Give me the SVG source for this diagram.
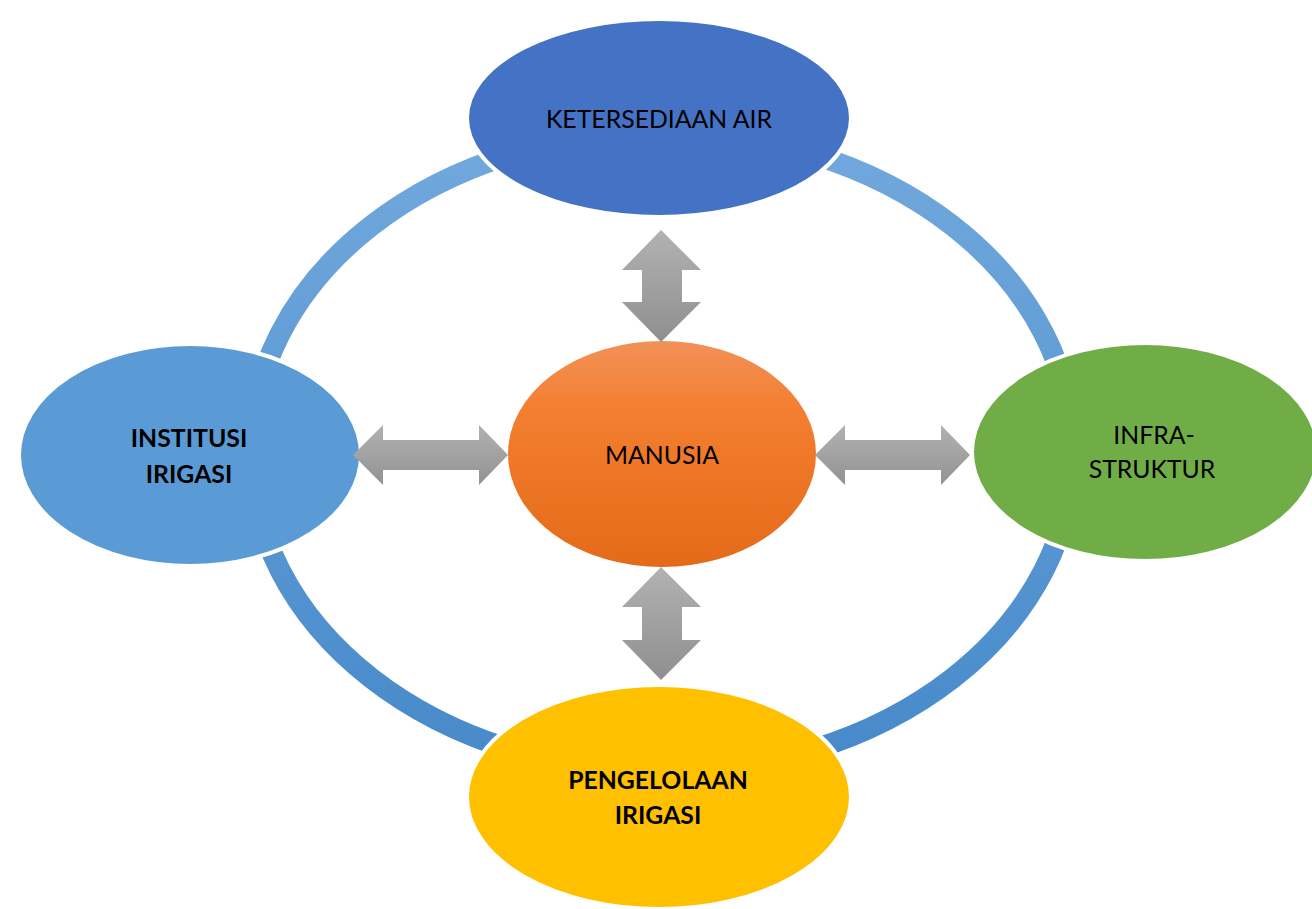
<svg xmlns="http://www.w3.org/2000/svg" width="1312" height="909" viewBox="0 0 1312 909">
<defs>
<linearGradient id="ringG" x1="0" y1="0" x2="0" y2="1">
<stop offset="0" stop-color="#72a9dd"/>
<stop offset="1" stop-color="#4689ca"/>
</linearGradient>
<linearGradient id="orangeG" x1="0" y1="0" x2="0" y2="1">
<stop offset="0" stop-color="#f19259"/>
<stop offset="0.3" stop-color="#f47f30"/>
<stop offset="1" stop-color="#e36a18"/>
</linearGradient>
<linearGradient id="grayV" x1="0" y1="0" x2="0" y2="1">
<stop offset="0" stop-color="#b2b2b2"/>
<stop offset="1" stop-color="#8f8f8f"/>
</linearGradient>
<linearGradient id="grayH" x1="0" y1="0" x2="0" y2="1">
<stop offset="0" stop-color="#b2b2b2"/>
<stop offset="1" stop-color="#929292"/>
</linearGradient>
</defs>
<style>
.node{stroke:#ffffff;stroke-width:4}
.t{font-family:Lato,"Open Sans","Liberation Sans",sans-serif;font-size:24.8px;fill:#000;text-anchor:middle}
.b{font-weight:bold}
</style>
<rect width="1312" height="909" fill="#ffffff"/>
<g id="ring">
<ellipse cx="662" cy="452" rx="411" ry="320" fill="none" stroke="url(#ringG)" stroke-width="21"/>
</g>
<g id="ketersediaan-air">
<ellipse class="node" cx="659" cy="118" rx="192" ry="99" fill="#4472c4"/>
<text class="t" x="659" y="128">KETERSEDIAAN AIR</text>
</g>
<g id="institusi-irigasi">
<ellipse class="node" cx="190" cy="455" rx="171" ry="111" fill="#5b9bd5"/>
<text class="t b" x="189" y="447">INSTITUSI</text>
<text class="t b" x="189" y="483">IRIGASI</text>
</g>
<g id="manusia">
<ellipse class="node" cx="662" cy="454" rx="156" ry="115" fill="url(#orangeG)"/>
<text class="t" x="662" y="464">MANUSIA</text>
</g>
<g id="infrastruktur">
<ellipse class="node" cx="1145" cy="452" rx="173" ry="109" fill="#70ad47"/>
<text class="t" x="1154" y="444">INFRA-</text>
<text class="t" x="1152" y="478">STRUKTUR</text>
</g>
<g id="pengelolaan-irigasi">
<ellipse class="node" cx="659" cy="797" rx="192" ry="112" fill="#ffc000"/>
<text class="t b" x="658" y="789">PENGELOLAAN</text>
<text class="t b" x="658" y="824">IRIGASI</text>
</g>
<g id="connectors">
<path d="M661 230 L701 270 L682 270 L682 302 L701 302 L661 342 L622 302 L642 302 L642 270 L622 270 Z" fill="url(#grayV)"/>
<path d="M661 567 L701 607 L682 607 L682 640 L701 640 L661 680 L622 640 L642 640 L642 607 L622 607 Z" fill="url(#grayV)"/>
<path d="M353 455 L383 425 L383 440 L479 440 L479 425 L508 455 L479 485 L479 470 L383 470 L383 485 Z" fill="url(#grayH)"/>
<path d="M815 455 L845 425 L845 440 L941 440 L941 425 L970 455 L941 485 L941 470 L845 470 L845 485 Z" fill="url(#grayH)"/>
</g>
</svg>
